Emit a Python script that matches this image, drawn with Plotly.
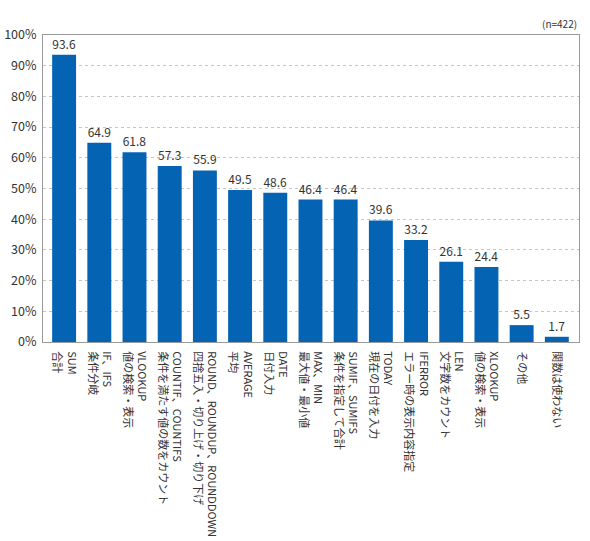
import plotly.graph_objects as go

# Survey: Excel functions used (n=422), percentages
categories = [
    "SUM<br>合計",
    "IF、IFS<br>条件分岐",
    "VLOOKUP<br>値の検索・表示",
    "COUNTIF、COUNTIFS<br>条件を満たす値の数をカウント",
    "ROUND、ROUNDUP、ROUNDDOWN<br>四捨五入・切り上げ・切り下げ",
    "AVERAGE<br>平均",
    "DATE<br>日付入力",
    "MAX、MIN<br>最大値・最小値",
    "SUMIF、SUMIFS<br>条件を指定して合計",
    "TODAY<br>現在の日付を入力",
    "IFERROR<br>エラー時の表示内容指定",
    "LEN<br>文字数をカウント",
    "XLOOKUP<br>値の検索・表示",
    "その他",
    "関数は使わない",
]
values = [93.6, 64.9, 61.8, 57.3, 55.9, 49.5, 48.6, 46.4, 46.4, 39.6, 33.2, 26.1, 24.4, 5.5, 1.7]

y_ticks = list(range(0, 101, 10))
y_tick_text = [f"{v}%" for v in y_ticks]

font_family = "Noto Sans CJK JP, Noto Sans, sans-serif"
text_color = "#333333"

fig = go.Figure()

fig.add_trace(go.Bar(
    x=list(range(len(categories))),
    y=values,
    width=0.68,
    marker=dict(color="#0563B4", line=dict(width=0)),
    text=[f"{v:.1f}" for v in values],
    textposition="outside",
    cliponaxis=False,
    textfont=dict(size=12, color=text_color, family=font_family),
    hovertemplate="%{y:.1f}%<extra></extra>",
))

fig.update_layout(
    width=590,
    height=541,
    margin=dict(l=43, r=11, t=35, b=199, autoexpand=False),
    plot_bgcolor="white",
    paper_bgcolor="white",
    showlegend=False,
    font=dict(family=font_family, size=12, color=text_color),
    bargap=0.32,
)

fig.update_xaxes(
    tickmode="array",
    tickvals=list(range(len(categories))),
    ticktext=categories,
    tickangle=90,
    range=[-0.6, 14.63],
    automargin=False,
    showgrid=False,
    showline=True,
    linecolor="#999999",
    linewidth=1,
    mirror=True,
    ticks="",
    ticklabelstandoff=6,
    tickfont=dict(size=11, color=text_color, family=font_family),
)

fig.update_yaxes(
    range=[0, 100],
    tickmode="array",
    tickvals=y_ticks,
    ticktext=y_tick_text,
    automargin=False,
    showgrid=True,
    gridcolor="#C4C4C4",
    griddash="dot",
    gridwidth=1,
    showline=True,
    linecolor="#999999",
    linewidth=1,
    mirror=True,
    zeroline=False,
    ticks="",
    ticklabelstandoff=3,
    tickfont=dict(size=12.5, color=text_color, family=font_family),
)

fig.add_annotation(
    text="(n=422)",
    xref="paper", yref="paper",
    x=1, y=1,
    xanchor="right", yanchor="bottom",
    yshift=2,
    showarrow=False,
    font=dict(size=10, color=text_color, family=font_family),
)

# remove the default page margin so the figure sits at the window's corner
fig.write_html(
    "out.html",
    config={"displayModeBar": False},
    post_script="document.body.style.margin='0';",
)
